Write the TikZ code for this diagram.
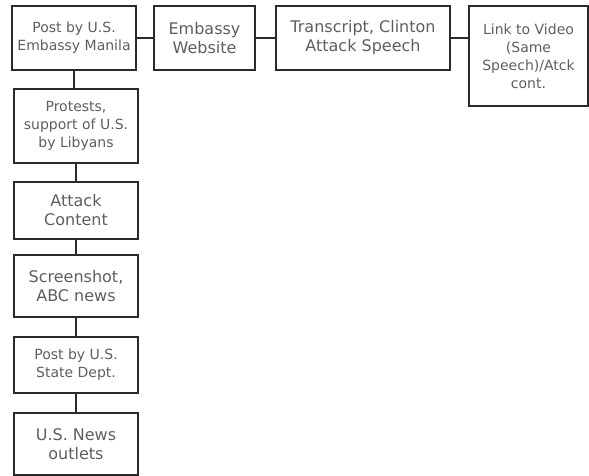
\documentclass[tikz,border=0pt]{standalone}
\usepackage{fontspec}
\setmainfont{DejaVu Sans}
\definecolor{txt}{HTML}{5E5E5E}
\definecolor{ln}{HTML}{2A2A2A}
\tikzset{
  box/.style={draw=ln, line width=2.4pt, rectangle, inner sep=0pt, align=center, text=txt, minimum width=124pt},
  sm/.style={font=\fontsize{14}{18}\selectfont},
  lg/.style={font=\fontsize{16}{19}\selectfont},
  conn/.style={draw=ln, line width=2.4pt}
}
\begin{document}
\begin{tikzpicture}[x=1pt,y=-1pt]
\useasboundingbox (0,0) rectangle (589,476);
\node[box,sm,minimum height=64pt] (b1) at (74,38) {Post by U.S.\\Embassy Manila};
\node[box,lg,minimum width=101pt,minimum height=64pt] (b2) at (204.5,38) {Embassy\\Website};
\node[box,lg,minimum width=174pt,minimum height=64pt] (b3) at (363,38) {Transcript, Clinton\\Attack Speech};
\node[box,sm,minimum width=119pt,minimum height=100pt] (b4) at (528.5,56) {Link to Video\\(Same\\Speech)/Atck\\cont.};
\node[box,sm,minimum height=74pt] (b5) at (76,126) {Protests,\\support of U.S.\\by Libyans};
\node[box,lg,minimum height=57pt] (b6) at (76,210.5) {Attack\\Content};
\node[box,lg,minimum height=62pt] (b7) at (76,286) {Screenshot,\\ABC news};
\node[box,sm,minimum height=56pt] (b8) at (76,365) {Post by U.S.\\State Dept.};
\node[box,lg,minimum height=62pt] (b9) at (76,444) {U.S. News\\outlets};
\draw[conn] (b1.east) -- (b2.west);
\draw[conn] (b2.east) -- (b3.west);
\draw[conn] (b3.east) -- (b3.east -| b4.west);
\draw[conn] (b1.south) -- (b1.south |- b5.north);
\draw[conn] (b5.south) -- (b6.north);
\draw[conn] (b6.south) -- (b7.north);
\draw[conn] (b7.south) -- (b8.north);
\draw[conn] (b8.south) -- (b9.north);
\end{tikzpicture}
\end{document}
